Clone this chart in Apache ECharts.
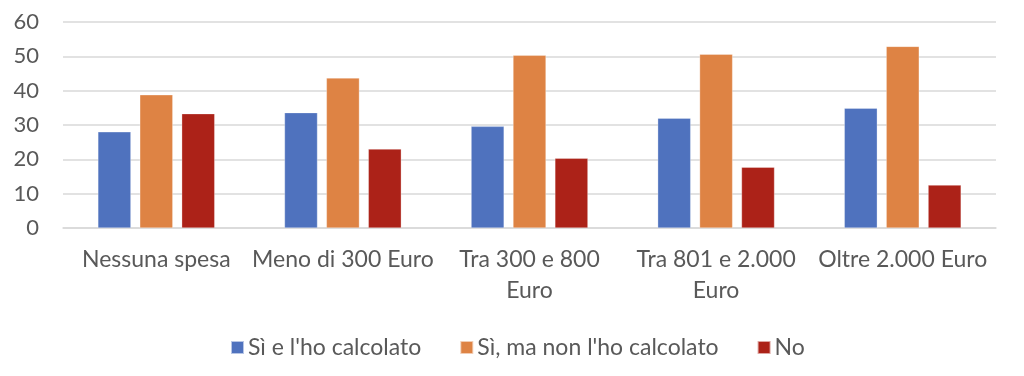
<!DOCTYPE html>
<html>
<head>
<meta charset="utf-8">
<script src="https://cdn.jsdelivr.net/npm/echarts@6/dist/echarts.min.js"></script>
<style>
  html, body { margin: 0; padding: 0; background: #fff; }
  #main { width: 1024px; height: 376px; }
</style>
</head>
<body>
<div id="main"></div>
<script>
// categorie e valori
var categories = ["Nessuna spesa", "Meno di 300 Euro", "Tra 300 e 800\nEuro", "Tra 801 e 2.000\nEuro", "Oltre 2.000 Euro"];
var seriesNames = ["Sì e l'ho calcolato", "Sì, ma non l'ho calcolato", "No"];
var siCalcolato = [28.0, 33.6, 29.6, 32.0, 34.9];
var siNonCalcolato = [38.8, 43.7, 50.3, 50.6, 52.9];
var no = [33.3, 23.0, 20.3, 17.7, 12.5];
var colors = ["#4f72be", "#de8344", "#ac2218"];

var chart = echarts.init(document.getElementById("main"));
var font = "Lato, 'Open Sans', sans-serif";

function barSeries(name, data, color) {
  return {
    name: name,
    type: "bar",
    data: data,
    barWidth: 33,
    barGap: "27%",
    itemStyle: { color: color, borderColor: "rgba(255,255,255,0.6)", borderWidth: 0.5 },
  };
}

var option = {
  animation: false,
  color: colors,
  textStyle: { fontFamily: font },
  grid: { left: 63, right: 28, top: 22, bottom: 148 },
  legend: {
    top: 331,
    left: 225,
    icon: "rect",
    itemWidth: 13,
    itemHeight: 13,
    itemGap: 38,
    textStyle: { fontSize: 23, color: "#595959", fontFamily: font, padding: [0, 0, 0, -1] },
    data: seriesNames,
  },
  xAxis: {
    type: "category",
    data: categories,
    axisLine: { show: true, lineStyle: { color: "#d9d9d9", width: 1.5 } },
    axisTick: { show: false },
    axisLabel: { interval: 0, fontSize: 23, color: "#595959", margin: 16, lineHeight: 31, fontFamily: font },
  },
  yAxis: {
    type: "value",
    min: 0,
    max: 60,
    interval: 10,
    axisLine: { show: false },
    axisTick: { show: false },
    splitLine: { lineStyle: { color: "#d9d9d9", width: 1.5 } },
    axisLabel: { fontSize: 22, color: "#595959", margin: 24, fontFamily: font },
  },
  series: [
    barSeries(seriesNames[0], siCalcolato, colors[0]),
    barSeries(seriesNames[1], siNonCalcolato, colors[1]),
    barSeries(seriesNames[2], no, colors[2]),
  ],
};
chart.setOption(option);
</script>
</body>
</html>
